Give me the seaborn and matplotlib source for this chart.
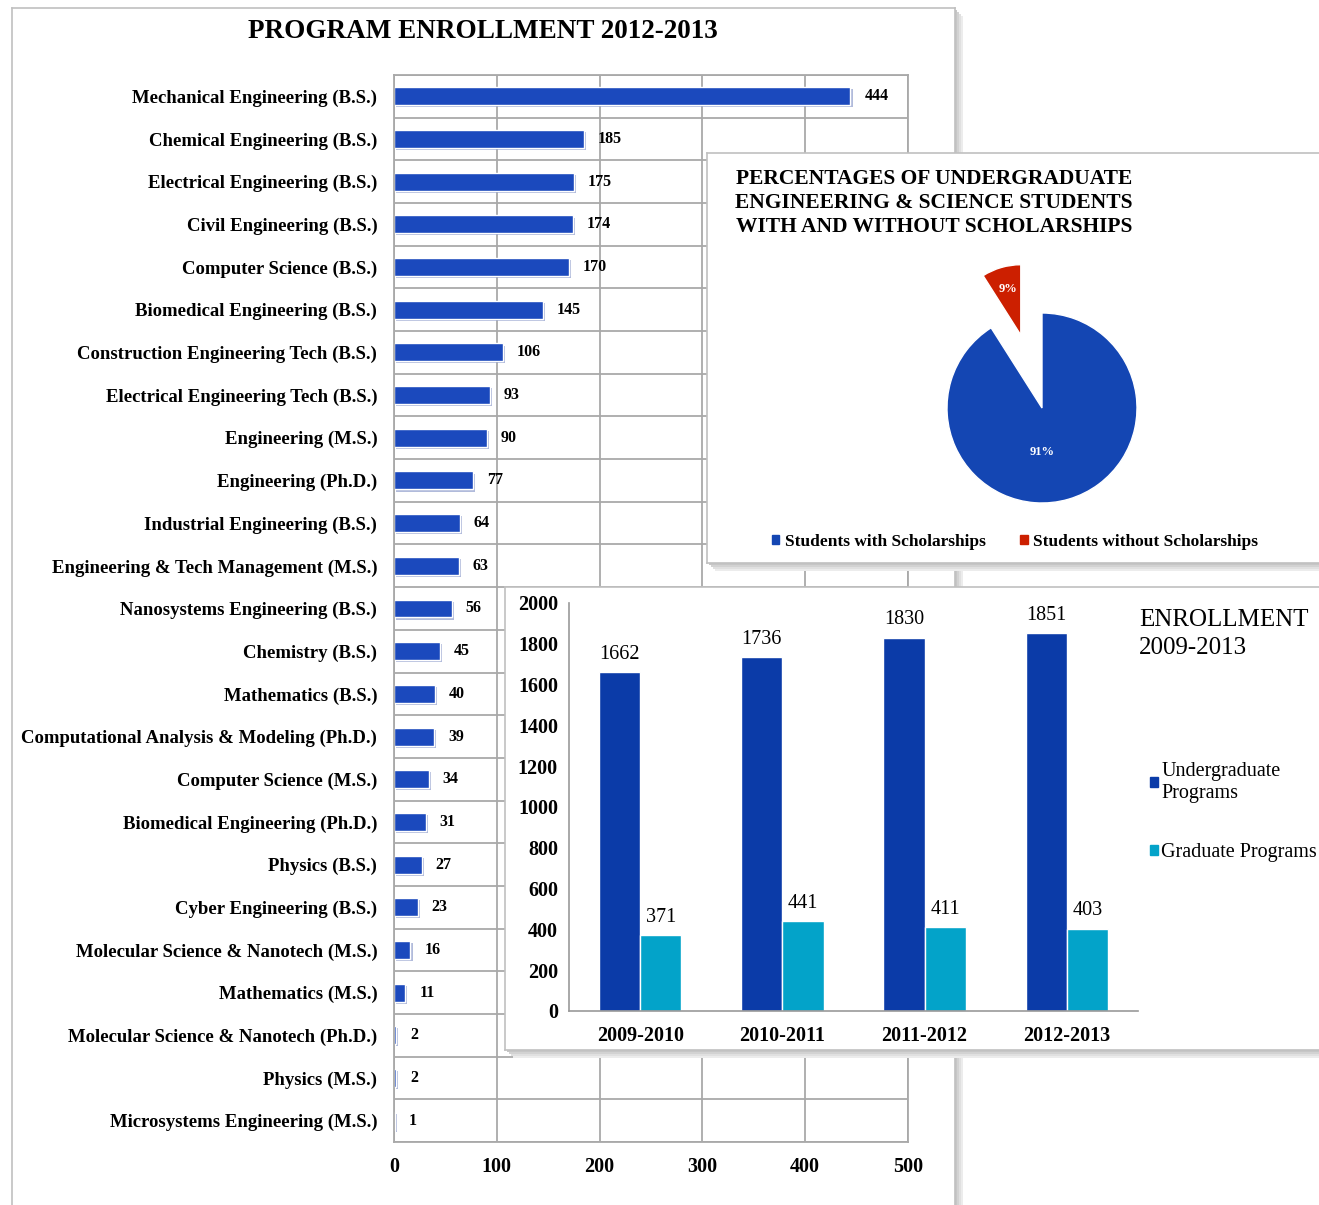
import matplotlib
matplotlib.use('Agg')
import numpy as np
import pandas as pd
import matplotlib.pyplot as plt
import matplotlib.patheffects as pe
from matplotlib.patches import Patch
import seaborn as sns

# ---------------- data ----------------
programs = [
    'Mechanical Engineering (B.S.)', 'Chemical Engineering (B.S.)',
    'Electrical Engineering (B.S.)', 'Civil Engineering (B.S.)',
    'Computer Science (B.S.)', 'Biomedical Engineering (B.S.)',
    'Construction Engineering Tech (B.S.)', 'Electrical Engineering Tech (B.S.)',
    'Engineering (M.S.)', 'Engineering (Ph.D.)', 'Industrial Engineering (B.S.)',
    'Engineering & Tech Management (M.S.)', 'Nanosystems Engineering (B.S.)',
    'Chemistry (B.S.)', 'Mathematics (B.S.)',
    'Computational Analysis & Modeling (Ph.D.)', 'Computer Science (M.S.)',
    'Biomedical Engineering (Ph.D.)', 'Physics (B.S.)', 'Cyber Engineering (B.S.)',
    'Molecular Science & Nanotech (M.S.)', 'Mathematics (M.S.)',
    'Molecular Science & Nanotech (Ph.D.)', 'Physics (M.S.)',
    'Microsystems Engineering (M.S.)',
]
enrollment = [444, 185, 175, 174, 170, 145, 106, 93, 90, 77, 64, 63, 56,
              45, 40, 39, 34, 31, 27, 23, 16, 11, 2, 2, 1]

scholar_labels = ['Students with Scholarships', 'Students without Scholarships']
scholar_pct = [91, 9]

years = ['2009-2010', '2010-2011', '2011-2012', '2012-2013']
undergrad = [1662, 1736, 1830, 1851]
graduate = [371, 441, 411, 403]
levels = ['Undergraduate\nPrograms', 'Graduate Programs']

# ---------------- style ----------------
sns.set_theme(style='white')
plt.rcParams['font.family'] = ['Liberation Serif', 'DejaVu Serif']
plt.rcParams['text.color'] = 'black'
plt.rcParams['xtick.labelcolor'] = 'black'
plt.rcParams['ytick.labelcolor'] = 'black'

W, H = 1319, 1205
fig = plt.figure(figsize=(W / 100, H / 100), dpi=100)
fig.patch.set_facecolor('white')


def px(x0, y0, x1, y1):
    return [x0 / W, 1 - y1 / H, (x1 - x0) / W, (y1 - y0) / H]


def panel(x0, y0, x1, y1, off=6):
    # soft drop shadow, then the white card
    for k, c in zip(range(off, 0, -2), ['#ececec', '#e0e0e0', '#d2d2d2', '#c6c6c6']):
        sh = fig.add_axes(px(x0 + k, y0 + k, x1 + k, y1 + k))
        sh.set_facecolor(c)
        sh.set_xticks([]); sh.set_yticks([])
        for s in sh.spines.values():
            s.set_visible(False)
    bx = fig.add_axes(px(x0, y0, x1, y1))
    bx.set_facecolor('white')
    bx.set_xticks([]); bx.set_yticks([])
    for s in bx.spines.values():
        s.set_color('#c0c0c0')
        s.set_linewidth(1.2)
    return bx


# ---------------- program enrollment (main) ----------------
panel(12, 8, 955, 1215, off=8)
ax = fig.add_axes(px(394, 75, 908, 1142))
main_df = pd.DataFrame({'program': programs, 'count': enrollment})
sns.barplot(data=main_df, x='count', y='program', orient='h', color='#1b49bd',
            saturation=1, width=0.42, ax=ax)
for bar in ax.patches:
    bar.set_path_effects([pe.SimplePatchShadow(offset=(1.5, -1.5), shadow_rgbFace='#7d8fc4', alpha=0.6),
                          pe.Normal()])
ax.set_xlim(0, 500)
ax.set_xticks(range(0, 501, 100))
ax.set_yticks(np.arange(-0.5, len(programs), 1), minor=True)
ax.set_axisbelow(True)
ax.grid(which='minor', axis='y', color='#a9a9a9', lw=1.3)
ax.grid(which='major', axis='x', color='#a9a9a9', lw=1.3)
ax.tick_params(axis='y', which='major', length=0, pad=12, labelsize=13.5)
ax.tick_params(axis='y', which='minor', length=5, color='#a9a9a9', width=1.2)
ax.tick_params(axis='x', which='major', length=5, color='#a9a9a9', pad=6, labelsize=14.5)
for lab in ax.get_yticklabels() + ax.get_xticklabels():
    lab.set_fontweight('bold')
for s in ax.spines.values():
    s.set_color('#a9a9a9')
    s.set_linewidth(1.3)
ax.set_xlabel('')
ax.set_ylabel('')
ax.bar_label(ax.containers[0], padding=10, fontsize=11.5, fontweight='bold')
fig.text(483 / W, 1 - 32 / H, 'PROGRAM ENROLLMENT 2012-2013', ha='center', va='center',
         fontsize=19.5, fontweight='bold')

# ---------------- scholarship pie ----------------
panel(707, 153, 1325, 563, off=8)
fig.text(934 / W, 1 - 203 / H,
         'PERCENTAGES OF UNDERGRADUATE\nENGINEERING & SCIENCE STUDENTS\nWITH AND WITHOUT SCHOLARSHIPS',
         ha='center', va='center', fontsize=15.5, fontweight='bold', linespacing=1.25)
pax = fig.add_axes(px(1042 - 142.5, 408 - 142.5, 1042 + 142.5, 408 + 142.5))
pie_colors = ['#1446b3', '#cc1f00']
wedges, _, autotexts = pax.pie(scholar_pct, colors=pie_colors, startangle=90, counterclock=False,
                               explode=[0, 0.8], autopct='%d%%', pctdistance=0.5,
                               textprops=dict(color='white', fontsize=9, fontweight='bold'))
wedges[1].set_radius(0.74)
autotexts[0].set_position((0.0, -0.46))
pax.set_xlim(-1.5, 1.5)
pax.set_ylim(-1.5, 1.5)
pax.set_aspect('equal')
pax.axis('off')
fig.legend([Patch(color=c) for c in pie_colors], scholar_labels, loc='center',
           bbox_to_anchor=(1015 / W, 1 - 542 / H), ncol=2, frameon=False,
           handlelength=0.45, handleheight=0.45, handletextpad=0.3, columnspacing=2.0,
           prop=dict(family='Liberation Serif', weight='bold', size=12.5))

# ---------------- enrollment 2009-2013 ----------------
panel(505, 587, 1325, 1050, off=8)
bax = fig.add_axes(px(569, 603, 1138, 1011))
enr_df = pd.DataFrame({
    'year': years * 2,
    'level': [levels[0]] * len(years) + [levels[1]] * len(years),
    'count': undergrad + graduate,
})
bar_colors = ['#0b3ba8', '#03a3c9']
sns.barplot(data=enr_df, x='year', y='count', hue='level', palette=bar_colors,
            saturation=1, width=0.58, ax=bax, legend=False)
for cont in bax.containers:
    bax.bar_label(cont, padding=6, fontsize=14.5)
bax.set_ylim(0, 2000)
bax.set_yticks(range(0, 2001, 200))
bax.set_xlim(-0.5, 3.5)
bax.set_xticks(np.arange(-0.5, 4, 1), minor=True)
bax.tick_params(axis='x', which='major', length=0, pad=11, labelsize=14.5)
bax.tick_params(axis='x', which='minor', length=6, color='#999999', width=1.2)
bax.tick_params(axis='y', which='major', length=5, color='#999999', width=1.2, pad=3, labelsize=14.5)
for lab in bax.get_yticklabels() + bax.get_xticklabels():
    lab.set_fontweight('bold')
for side in ['top', 'right']:
    bax.spines[side].set_visible(False)
for side in ['left', 'bottom']:
    bax.spines[side].set_color('#999999')
    bax.spines[side].set_linewidth(1.2)
bax.set_xlabel('')
bax.set_ylabel('')
fig.text(1139 / W, 1 - 634 / H, 'ENROLLMENT\n2009-2013', ha='left', va='center',
         fontsize=18, linespacing=1.3)
fig.legend([Patch(color=c) for c in bar_colors], levels, loc='upper left',
           bbox_to_anchor=(1132 / W, 1 - 744 / H), frameon=False,
           handlelength=0.4, handleheight=0.4, handletextpad=0.15, labelspacing=2.0,
           prop=dict(family='Liberation Serif', size=14.5))

fig.savefig('out.png', dpi=100)
